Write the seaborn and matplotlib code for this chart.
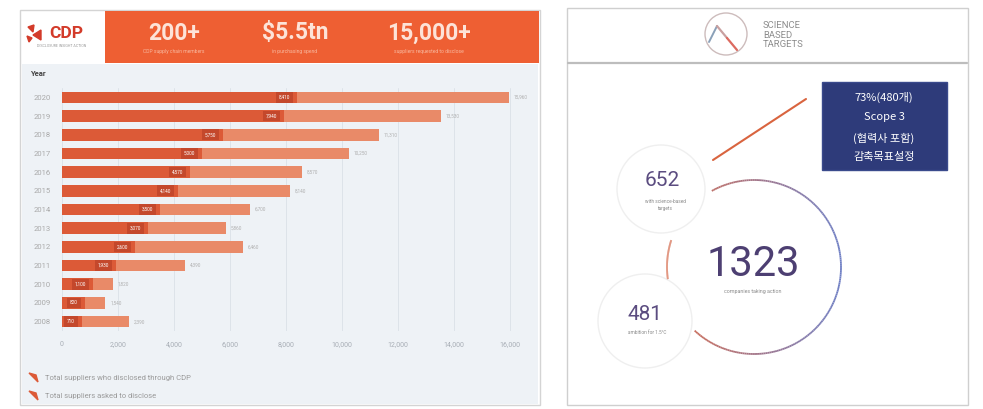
import numpy as np
import pandas as pd
import matplotlib
matplotlib.use("Agg")
import matplotlib.pyplot as plt
import matplotlib.patches as mpatches
from matplotlib.collections import LineCollection
from matplotlib.colors import to_rgb
import seaborn as sns

sns.set_style("white")
plt.rcParams['font.family'] = ['Roboto', 'Noto Sans CJK KR', 'DejaVu Sans']

# ---------------- data ----------------
years = ['2020', '2019', '2018', '2017', '2016', '2015', '2014',
         '2013', '2012', '2011', '2010', '2009', '2008']
total_asked = [15960, 13530, 11310, 10250, 8570, 8140, 6700,
               5860, 6460, 4390, 1820, 1540, 2390]
disclosed = [8410, 7940, 5750, 5000, 4570, 4140, 3500,
             3070, 2600, 1930, 1100, 820, 710]
x_ticks = [0, 2000, 4000, 6000, 8000, 10000, 12000, 14000, 16000]
banner_values = ['200+', '$5.5tn', '15,000+']
banner_notes = ['CDP supply chain members', 'in purchasing spend', 'suppliers requested to disclose']
legend_labels = ['Total suppliers who disclosed through CDP', 'Total suppliers asked to disclose']
sbt_values = ['652', '481', '1323']
sbt_notes = ['with science-based\ntargets', 'ambition for 1.5°C', 'companies taking action']
box_lines = ['73%(480개)', 'Scope 3', '(협력사 포함)', '감축목표설정']

df = pd.DataFrame({'year': years, 'total': total_asked, 'disclosed': disclosed})

# ---------------- figure ----------------
W, H = 983, 409
fig = plt.figure(figsize=(W / 100, H / 100), dpi=100)
fig.patch.set_facecolor('white')

bg = fig.add_axes([0, 0, 1, 1], zorder=0)
bg.set_xlim(0, W)
bg.set_ylim(H, 0)
bg.axis('off')

def px_axes(x0, y0, x1, y1, z=2):
    return fig.add_axes([x0 / W, 1 - y1 / H, (x1 - x0) / W, (y1 - y0) / H], zorder=z)

ORANGE = '#ee5f33'
DARK_BAR = '#dc5a37'
LIGHT_BAR = '#e98a68'
PANEL = '#eef2f6'

# ----- left panel -----
bg.add_patch(mpatches.Rectangle((20, 10), 520, 395, facecolor='white', edgecolor='#d4d4d4', lw=1))
bg.add_patch(mpatches.Rectangle((105, 11), 434, 52, facecolor=ORANGE, edgecolor='none'))
bg.add_patch(mpatches.Rectangle((22, 64), 516, 340, facecolor=PANEL, edgecolor='none'))

# CDP logo
bg.text(66, 34, 'CDP', color='#d33b2a', fontsize=12.5, fontweight='bold', ha='center', va='center')
bg.add_patch(mpatches.Polygon([(28, 27), (34, 25), (33, 32)], closed=True, color='#d33b2a'))
bg.add_patch(mpatches.Polygon([(33, 35), (41, 30), (41, 40)], closed=True, color='#d33b2a'))
bg.add_patch(mpatches.Polygon([(27, 36), (32, 38), (29, 42)], closed=True, color='#d33b2a'))
bg.text(62, 46, 'DISCLOSURE INSIGHT ACTION', color='#999999', fontsize=2.6, ha='center', va='center')

for xc, v, note in zip([174, 295, 429], banner_values, banner_notes):
    bg.text(xc, 33, v, color='#fde3d8', fontsize=16.5, fontweight='bold', ha='center', va='center')
    bg.text(xc, 52, note, color='#f8b9a0', fontsize=3.6, ha='center', va='center')

bg.text(30, 73, 'Year', color='#444444', fontsize=5.5, fontweight='bold', ha='left', va='center')

# legend
for yy, lab in zip([378, 396], legend_labels):
    bg.add_patch(mpatches.Polygon([(29, yy - 5), (36, yy - 3), (38, yy + 4), (33, yy - 1)],
                                  closed=True, color=DARK_BAR))
    bg.text(45, yy, lab, color='#9a9a9a', fontsize=5.5, ha='left', va='center')

# bar axes
ax = px_axes(62, 88, 530, 331)
ax.set_facecolor('none')
sns.barplot(data=df, x='total', y='year', orient='h', color=LIGHT_BAR, width=0.62,
            saturation=1, ax=ax, order=years, zorder=3, linewidth=0, edgecolor='none')
sns.barplot(data=df, x='disclosed', y='year', orient='h', color=DARK_BAR, width=0.62,
            saturation=1, ax=ax, order=years, zorder=4, linewidth=0, edgecolor='none')
ax.set_xlim(0, 16714)
ax.set_xticks(x_ticks)
ax.set_xticklabels([f'{t:,}' for t in x_ticks], color='#a8aeb6', fontsize=5)
ax.tick_params(axis='x', length=0, pad=7)
ax.tick_params(axis='y', length=0, pad=8, labelsize=5.5, labelcolor='#a9a9a9')
ax.set_xlabel('')
ax.set_ylabel('')
for s in ax.spines.values():
    s.set_visible(False)
ax.grid(axis='x', color='#dde3e9', lw=0.7, zorder=0)
ax.set_axisbelow(True)
for i, (t, d) in enumerate(zip(total_asked, disclosed)):
    ax.text(d - 250, i, f'{d:,}', ha='right', va='center', color='white', fontsize=3.4, zorder=6,
            bbox=dict(boxstyle='square,pad=0.6', facecolor='#c4482c', edgecolor='none'))
    ax.text(t + 180, i, f'{t:,}', ha='left', va='center', color='#b0b0b0', fontsize=3.4, zorder=6)

# ----- right panel -----
bg.add_patch(mpatches.Rectangle((567, 8), 401, 397, facecolor='white', edgecolor='#cfcfcf', lw=1))
bg.plot([568, 967], [63, 63], color='#bdbdbd', lw=1.6)

# SBT logo
bg.add_patch(mpatches.Circle((726, 34), 21, facecolor='none', edgecolor='#cdbcbc', lw=1))
bg.plot([709, 717], [42, 26], color='#8aa0b8', lw=1.4)
pts = np.array([[717, 26], [727, 38], [737, 50]])
bg.plot(pts[:2, 0], pts[:2, 1], color='#c9a0a0', lw=1.6)
bg.plot(pts[1:, 0], pts[1:, 1], color='#dc6a60', lw=1.6)
bg.text(763, 35, 'SCIENCE\nBASED\nTARGETS', color='#8c8c8c', fontsize=6.8, ha='left', va='center',
        linespacing=1.05)

# big circle arcs with gradient
cx, cy, r = 754, 267, 87
c_or = np.array(to_rgb('#d86a4a'))
c_bl = np.array(to_rgb('#6f7fc4'))

def grad_arc(a0, a1, n=200):
    ang = np.radians(np.linspace(a0, a1, n))
    xs = cx + r * np.cos(ang)
    ys = cy - r * np.sin(ang)
    seg = np.stack([np.column_stack([xs[:-1], ys[:-1]]), np.column_stack([xs[1:], ys[1:]])], axis=1)
    mid = (ang[:-1] + ang[1:]) / 2
    w = (np.cos(mid) + 1) / 2  # 1 on right side, 0 on left
    cols = [tuple(c_or * (1 - wi) + c_bl * wi) for wi in w]
    return LineCollection(seg, colors=cols, linewidths=1.3)

bg.add_collection(grad_arc(119, -133))
bg.add_collection(grad_arc(162, 188))

# small circles
bg.add_patch(mpatches.Circle((661, 189), 44, facecolor='none', edgecolor='#efefef', lw=1))
bg.add_patch(mpatches.Circle((645, 321), 47, facecolor='none', edgecolor='#efefef', lw=1))

PURPLE = '#4d3f72'
bg.text(753, 264, sbt_values[2], color=PURPLE, fontsize=30, ha='center', va='center')
bg.text(753, 292, sbt_notes[2], color='#8a8a8a', fontsize=3.8, ha='center', va='center')
bg.text(662, 181, sbt_values[0], color='#5b4c80', fontsize=15, ha='center', va='center')
bg.text(665, 205, sbt_notes[0], color='#8a8a8a', fontsize=3.4, ha='center', va='center', linespacing=1.5)
bg.text(645, 315, sbt_values[1], color='#5b4c80', fontsize=15, ha='center', va='center')
bg.text(647, 332, sbt_notes[1], color='#8a8a8a', fontsize=3.4, ha='center', va='center')

# connector and navy box
bg.plot([713, 806], [160, 99], color='#d9643f', lw=1.5)
bg.add_patch(mpatches.Rectangle((822, 82), 125, 88, facecolor='#2e3b7a', edgecolor='#3a4a8c', lw=1))
for yy, line in zip([97, 117, 138, 157], box_lines):
    bg.text(884, yy, line, color='white', fontsize=8, ha='center', va='center',
            family=['Noto Sans CJK KR', 'DejaVu Sans'])

fig.savefig('out.png', dpi=100, facecolor='white')
